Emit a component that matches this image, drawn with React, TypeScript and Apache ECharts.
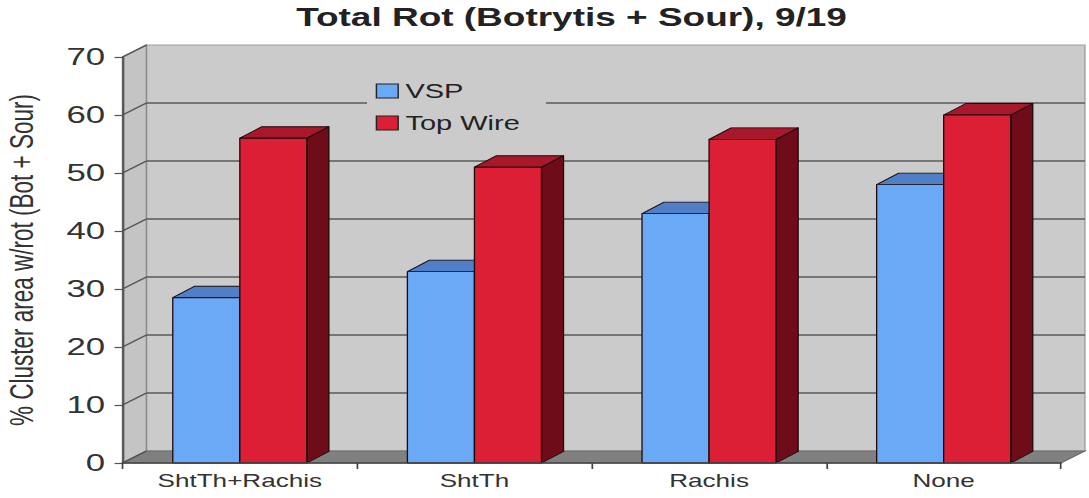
import React, { useEffect, useRef } from "react";
import * as echarts from "echarts";

// ---- data ----
const categories = ["ShtTh+Rachis", "ShtTh", "Rachis", "None"];
const vspValues = [28.5, 33, 43, 48];
const topWireValues = [56, 51, 55.8, 60];
const yTicks = [0, 10, 20, 30, 40, 50, 60, 70];
const seriesNames = ["VSP", "Top Wire"];
const titleText = "Total Rot (Botrytis + Sour), 9/19";
const yAxisName = "% Cluster area w/rot (Bot + Sour)";

// ---- layout / style ----
const STRETCH = 1.45;
const W = 1089 / STRETCH;
const H = 498;
const WALL_DX = 16.5;
const WALL_DY = -12;
const BAR_DX = 15.2;
const BAR_DY = -11.5;
const BAR_FRAC = 0.2857;
const FONT = '"Liberation Sans", Arial, sans-serif';

const palette = [
  { front: "#6aa9f6", top: "#4f7fc6", side: "#3a5f95" },
  { front: "#dc1f34", top: "#a8172a", side: "#6e0c1a" },
];

function makeBarRender(idx: number) {
  const c = palette[idx];
  return (params: any, api: any) => {
    const cat = api.value(0);
    const val = api.value(1);
    const base = api.coord([cat, 0]);
    const tp = api.coord([cat, val]);
    const band = api.size([1, 0])[0];
    const bw = band * BAR_FRAC;
    const x0 = base[0] + (idx === 0 ? -bw : 0);
    const x1 = x0 + bw;
    const yb = base[1];
    const yt = tp[1];
    const stroke = { stroke: "#1e0a0a", lineWidth: 0.9, lineJoin: "round" };
    return {
      type: "group",
      children: [
        {
          type: "polygon",
          shape: { points: [[x1, yt], [x1 + BAR_DX, yt + BAR_DY], [x1 + BAR_DX, yb + BAR_DY], [x1, yb]] },
          style: { fill: c.side, ...stroke },
        },
        {
          type: "polygon",
          shape: { points: [[x0, yt], [x0 + BAR_DX, yt + BAR_DY], [x1 + BAR_DX, yt + BAR_DY], [x1, yt]] },
          style: { fill: c.top, ...stroke },
        },
        {
          type: "rect",
          shape: { x: x0, y: yt, width: bw, height: yb - yt },
          style: { fill: c.front, ...stroke },
        },
      ],
    };
  };
}

const wallRender = (params: any, api: any) => {
  const cs = params.coordSys;
  const xL = cs.x;
  const xR = cs.x + cs.width;
  const yT = cs.y;
  const yB = cs.y + cs.height;
  return {
    type: "group",
    silent: true,
    children: [
      {
        type: "rect",
        shape: { x: xL + WALL_DX, y: yT + WALL_DY, width: xR - xL, height: yB - yT },
        style: { fill: "#cbcbcb", stroke: "#a0a0a0", lineWidth: 1 },
      },
      {
        type: "polygon",
        shape: { points: [[xL, yT], [xL + WALL_DX, yT + WALL_DY], [xL + WALL_DX, yB + WALL_DY], [xL, yB]] },
        style: { fill: "#c4c4c4", stroke: "#8a8a8a", lineWidth: 1 },
      },
      {
        type: "polygon",
        shape: { points: [[xL, yB], [xL + WALL_DX, yB + WALL_DY], [xR + WALL_DX, yB + WALL_DY], [xR, yB]] },
        style: { fill: "#808080", stroke: "#6a6a6a", lineWidth: 1 },
      },
    ],
  };
};

const gridRender = (params: any, api: any) => {
  const cs = params.coordSys;
  const xL = cs.x;
  const xR = cs.x + cs.width;
  const v = api.value(1);
  const y = api.coord([0, v])[1];
  const children: any[] = [
    {
      type: "line",
      shape: { x1: xL, y1: y, x2: xL + WALL_DX, y2: y + WALL_DY },
      style: { stroke: "#555555", lineWidth: 1.3 },
    },
  ];
  if (v > yTicks[0] && v < yTicks[yTicks.length - 1]) {
    children.push({
      type: "line",
      shape: { x1: xL + WALL_DX, y1: y + WALL_DY, x2: xR + WALL_DX, y2: y + WALL_DY },
      style: { stroke: "#5a5a5a", lineWidth: 1.5 },
    });
  }
  return { type: "group", silent: true, children };
};

export default function App() {
  const ref = useRef<HTMLDivElement>(null);
  useEffect(() => {
    if (!ref.current) return;
    const chart = echarts.init(ref.current, null, { renderer: "svg", width: W, height: H });
    const option: any = {
      animation: false,
      backgroundColor: "#ffffff",
      grid: {
        left: 122.5 / STRETCH,
        right: W - 1061 / STRETCH,
        top: 57,
        bottom: 35,
        containLabel: false,
        outerBoundsMode: "none",
      },
      graphic: [
        {
          type: "text",
          x: 571.5 / STRETCH,
          y: 4,
          style: {
            text: titleText,
            fontFamily: FONT,
            fontSize: 25.5,
            fontWeight: "bold",
            fill: "#222222",
            align: "center",
            verticalAlign: "top",
          },
        },
      ],
      legend: {
        data: seriesNames,
        orient: "vertical",
        left: 367 / STRETCH,
        top: 73,
        backgroundColor: "#cbcbcb",
        padding: [8, 18, 8, 6],
        itemWidth: 15,
        itemHeight: 14,
        itemGap: 12,
        icon: "rect",
        itemStyle: { borderColor: "#222222", borderWidth: 1 },
        textStyle: { fontFamily: FONT, fontSize: 20, color: "#222222" },
        z: 10,
      },
      xAxis: {
        type: "category",
        data: categories,
        z: 5,
        axisLine: { lineStyle: { color: "#444444", width: 1.5 } },
        axisTick: { show: true, length: 6, lineStyle: { color: "#444444", width: 1.2 } },
        axisLabel: { fontFamily: FONT, fontSize: 18, color: "#333333", margin: 9 },
        splitLine: { show: false },
      },
      yAxis: {
        type: "value",
        min: yTicks[0],
        max: yTicks[yTicks.length - 1],
        interval: 10,
        z: 5,
        name: yAxisName,
        nameLocation: "middle",
        nameGap: 58,
        nameRotate: 90,
        nameTextStyle: { fontFamily: FONT, fontSize: 22.5, color: "#333333" },
        axisLine: { show: true, lineStyle: { color: "#555555", width: 1.5 } },
        axisTick: { show: true, length: 5.5, lineStyle: { color: "#555555", width: 1.2 } },
        axisLabel: { fontFamily: FONT, fontSize: 24, color: "#333333", margin: 12 },
        splitLine: { show: false },
      },
      series: [
        {
          type: "custom",
          name: "walls",
          silent: true,
          renderItem: wallRender,
          data: [[0, 0]],
        },
        {
          type: "custom",
          name: "gridlines",
          silent: true,
          renderItem: gridRender,
          data: yTicks.map((v) => [0, v]),
        },
        {
          type: "custom",
          name: seriesNames[0],
          renderItem: makeBarRender(0),
          itemStyle: { color: palette[0].front },
          data: vspValues.map((v, i) => [i, v]),
        },
        {
          type: "custom",
          name: seriesNames[1],
          renderItem: makeBarRender(1),
          itemStyle: { color: palette[1].front },
          data: topWireValues.map((v, i) => [i, v]),
        },
      ],
    };
    chart.setOption(option);
    return () => chart.dispose();
  }, []);
  return (
    <div
      ref={ref}
      style={{
        position: "fixed",
        left: 0,
        top: 0,
        width: W,
        height: H,
        transform: `scaleX(${STRETCH})`,
        transformOrigin: "0 0",
        background: "#ffffff",
      }}
    />
  );
}
